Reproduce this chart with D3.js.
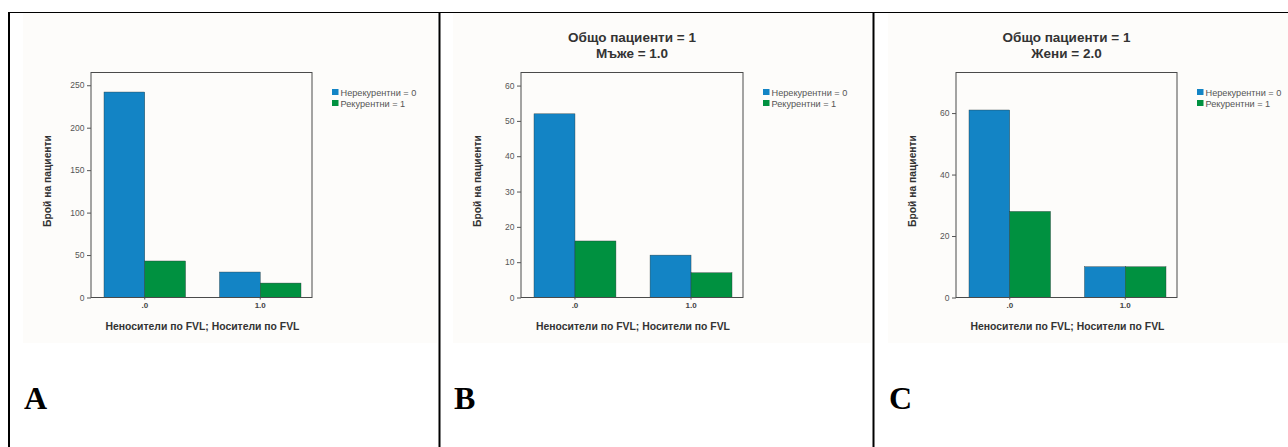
<!DOCTYPE html>
<html>
<head>
<meta charset="utf-8">
<script src="https://cdn.jsdelivr.net/npm/d3@7"></script>
<style>
  html, body { margin: 0; padding: 0; background: #fff; }
  svg { display: block; }
</style>
</head>
<body>
<div id="chart"></div>
<script>
const categories = ['.0', '1.0'];
const seriesNames = ['Нерекурентни = 0', 'Рекурентни = 1'];
const seriesColors = ['#1384c5', '#009140'];

// counts per panel: [non-recurrent, recurrent] for each category
const valuesA = [[242, 30], [43, 17]];
const valuesB = [[52, 12], [16, 7]];
const valuesC = [[61, 10], [28, 10]];

const ticksA = [0, 50, 100, 150, 200, 250];
const ticksB = [0, 10, 20, 30, 40, 50, 60];
const ticksC = [0, 20, 40, 60];

const titlesB = ['Общо пациенти = 1', 'Мъже = 1.0'];
const titlesC = ['Общо пациенти = 1', 'Жени = 2.0'];

const panelLetters = ['A', 'B', 'C'];

const xLabel = 'Неносители по FVL; Носители по FVL';
const yLabel = 'Брой на пациенти';

const W = 1288, H = 447;

const svg = d3.select('#chart')
  .append('svg')
  .attr('width', W)
  .attr('height', H);

const panels = [
  { ox: 0, bgX: 23, bgW: 414, left: 91, right: 312, yMax: 265, values: valuesA, ticks: ticksA, titles: null, letter: panelLetters[0] },
  { ox: 435, bgX: 453, bgW: 418, left: 86, right: 308, yMax: 63.7, values: valuesB, ticks: ticksB, titles: titlesB, letter: panelLetters[1] },
  { ox: 870, bgX: 888, bgW: 400, left: 86, right: 307, yMax: 73.2, values: valuesC, ticks: ticksC, titles: titlesC, letter: panelLetters[2] },
];

const plotTop = 72.5, plotBottom = 297.5;
const sans = 'Liberation Sans, Arial, sans-serif';

function drawPanel(p) {
  svg.append('rect')
    .attr('x', p.bgX).attr('y', 13)
    .attr('width', p.bgW).attr('height', 330)
    .attr('fill', '#fdfcfa');

  const g = svg.append('g').attr('transform', `translate(${p.ox},0)`);

  const y = d3.scaleLinear().domain([0, p.yMax]).range([plotBottom, plotTop]);
  const x0 = d3.scaleBand()
    .domain(categories)
    .range([p.left + 13, p.right - 11])
    .paddingInner(0.294);
  const x1 = d3.scaleBand()
    .domain(d3.range(seriesNames.length))
    .range([0, x0.bandwidth()]);

  // bars
  p.values.forEach((vals, s) => {
    g.selectAll(null)
      .data(vals)
      .enter()
      .append('rect')
      .attr('x', (d, i) => x0(categories[i]) + x1(s))
      .attr('y', (d) => y(d))
      .attr('width', x1.bandwidth())
      .attr('height', (d) => plotBottom - y(d))
      .attr('fill', seriesColors[s])
      .attr('stroke', '#2a3a3a')
      .attr('stroke-width', 0.4);
  });

  // frame
  g.append('rect')
    .attr('x', p.left).attr('y', plotTop)
    .attr('width', p.right - p.left).attr('height', plotBottom - plotTop)
    .attr('fill', 'none')
    .attr('stroke', '#4a4a4a')
    .attr('stroke-width', 1);

  // y axis
  const yAxis = g.append('g')
    .attr('transform', `translate(${p.left},0)`)
    .call(d3.axisLeft(y).tickValues(p.ticks).tickSize(4).tickPadding(2.5).tickFormat(d3.format('d')));
  yAxis.select('.domain').remove();
  yAxis.selectAll('line').attr('stroke', '#555');
  yAxis.selectAll('text')
    .attr('font-family', sans)
    .attr('font-size', 8.5)
    .attr('fill', '#555');

  // x axis
  const xAxis = g.append('g')
    .attr('transform', `translate(0,${plotBottom})`)
    .call(d3.axisBottom(x0).tickSize(2).tickPadding(3));
  xAxis.select('.domain').remove();
  xAxis.selectAll('line').attr('stroke', '#555');
  xAxis.selectAll('text')
    .attr('font-family', sans)
    .attr('font-size', 8)
    .attr('font-weight', 'bold')
    .attr('fill', '#444');

  // axis titles
  g.append('text')
    .attr('x', (p.left + p.right) / 2 + 1)
    .attr('y', 330)
    .attr('text-anchor', 'middle')
    .attr('font-family', sans)
    .attr('font-size', 10.4)
    .attr('font-weight', 'bold')
    .attr('fill', '#333')
    .text(xLabel);

  g.append('text')
    .attr('transform', `translate(${p.left - 40},181) rotate(-90)`)
    .attr('text-anchor', 'middle')
    .attr('font-family', sans)
    .attr('font-size', 10.3)
    .attr('font-weight', 'bold')
    .attr('fill', '#333')
    .text(yLabel);

  // title
  if (p.titles) {
    g.selectAll(null)
      .data(p.titles)
      .enter()
      .append('text')
      .attr('x', (p.left + p.right) / 2)
      .attr('y', (d, i) => 42 + i * 15.5)
      .attr('text-anchor', 'middle')
      .attr('font-family', sans)
      .attr('font-size', 13.5)
      .attr('font-weight', 'bold')
      .attr('fill', '#333')
      .text((d) => d);
  }

  // legend
  const lg = g.append('g').attr('transform', `translate(${p.right + 20},89)`);
  seriesNames.forEach((name, i) => {
    lg.append('rect')
      .attr('x', 0).attr('y', i * 11)
      .attr('width', 6.5).attr('height', 6)
      .attr('fill', seriesColors[i]);
    lg.append('text')
      .attr('x', 8.5).attr('y', i * 11 + 6.5)
      .attr('font-family', sans)
      .attr('font-size', 9.2)
      .attr('fill', '#555')
      .text(name);
  });

  // panel letter
  svg.append('text')
    .attr('x', p.bgX + 1)
    .attr('y', 409)
    .attr('font-family', 'Liberation Serif, Times New Roman, serif')
    .attr('font-size', 32)
    .attr('font-weight', 'bold')
    .attr('fill', '#000')
    .text(p.letter);
}

panels.forEach(drawPanel);

// table borders
svg.append('line').attr('x1', 8).attr('x2', W).attr('y1', 12.5).attr('y2', 12.5)
  .attr('stroke', '#000').attr('stroke-width', 1);
[9, 439.5, 873.5].forEach((xx) => {
  svg.append('line').attr('x1', xx).attr('x2', xx).attr('y1', 12).attr('y2', H)
    .attr('stroke', '#000').attr('stroke-width', 2);
});
</script>
</body>
</html>
